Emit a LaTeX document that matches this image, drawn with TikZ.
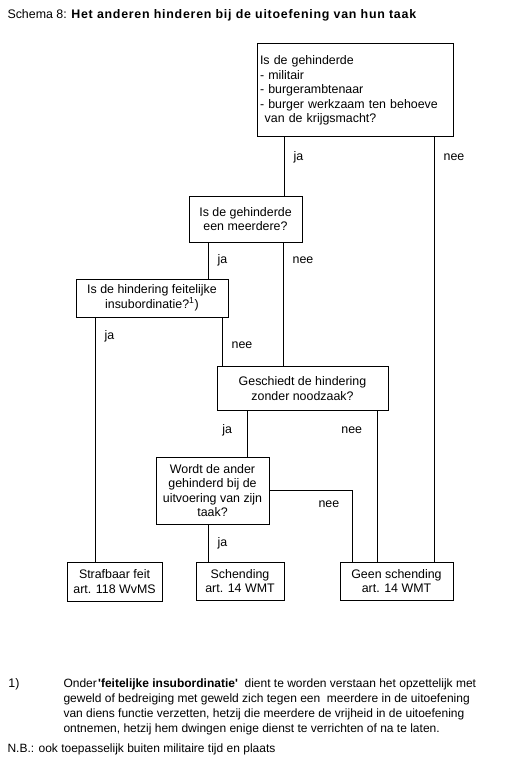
\documentclass[tikz,border=0pt]{standalone}
\usepackage{fontspec}
\setmainfont{Liberation Sans}
\usetikzlibrary{positioning,calc}

\begin{document}
\begin{tikzpicture}[x=0.75pt, y=-0.75pt, line width=0.75pt,
        every node/.style={font=\fontsize{9.3}{10.9}\selectfont},
        vraag/.style={draw, align=center, inner sep=0pt},
        jarechts/.style={right=3.5pt},
        jalinks/.style={left=7.5pt}]
                \useasboundingbox (0,0) rectangle (508,770);
                \node[anchor=base west, inner sep=0pt] (titel) at (7,19) {Schema 8: {\bfseries\addfontfeature{LetterSpace=6}Het anderen hinderen bij de uitoefening van hun taak}};
                
                % Vragen
                \node[vraag, minimum width=147pt, minimum height=69.75pt, text width=142.5pt, align=left, inner sep=2.25pt] (gehinderde) at (355,90.5)
                    {Is de gehinderde\\- militair\\- burgerambtenaar\\- burger werkzaam ten behoeve\\\hspace{3.5pt}van de krijgsmacht?};
                \node[vraag, minimum width=84.75pt, minimum height=34.5pt] (meerdere) at (245.5,219) {Is de gehinderde\\een meerdere?};
                \node[vraag, minimum width=114pt, minimum height=28.5pt] (insub) at (152,298) {Is de hindering feitelijke\\insubordinatie?\textsuperscript{1})};
                \node[vraag, minimum width=128.25pt, minimum height=33pt] (noodzaak) at (302.5,388.5) {Geschiedt de hindering\\zonder noodzaak?};
                \node[vraag, minimum width=84.75pt, minimum height=50.25pt] (taak) at (212.5,490.5) {Wordt de ander\\gehinderd bij de\\uitvoering van zijn\\taak?};
                
                % Uitkomsten
                \node[vraag, minimum width=71.25pt, minimum height=29.25pt] (strafbaar) at (114.5,581.5) {Strafbaar feit\\art. 118 WvMS};
                \node[vraag, minimum width=66pt, minimum height=28.5pt] (schending) at (240,581) {Schending\\art. 14 WMT};
                \node[vraag, minimum width=84.75pt, minimum height=28.5pt] (geen) at (396.5,581) {Geen schending\\art. 14 WMT};
                
                % Verbindingen
                \draw (gehinderde.south -| 284,0) -- node[jarechts, pos=0.34] {ja} (meerdere.north -| 284,0);
                \draw (gehinderde.south -| 434,0) -- node[jarechts, pos=0.047] {nee} (geen.north -| 434,0);
                \draw (meerdere.south -| 208,0) -- node[jarechts, pos=0.49] {ja} (insub.north -| 208,0);
                \draw (meerdere.south -| 283,0) -- node[jarechts, pos=0.145] {nee} (noodzaak.north -| 283,0);
                \draw (insub.south -| 95,0) -- node[jarechts, pos=0.078] {ja} (strafbaar.north -| 95,0);
                \draw (insub.south -| 222,0) -- node[jarechts, pos=0.57] {nee} (noodzaak.north -| 222,0);
                \draw (noodzaak.south -| 247,0) -- node[jalinks, pos=0.43] {ja} (taak.north -| 247,0);
                \draw (noodzaak.south -| 377,0) -- node[jalinks, pos=0.13] {nee} (geen.north -| 377,0);
                \draw (taak.south -| 208,0) -- node[jarechts, pos=0.5] {ja} (schending.north -| 208,0);
                \draw (taak.east) -| node[below=4pt, pos=0.36] {nee} (geen.north -| 352,0);
                
                % Voetnoot
                \node[anchor=north west, inner sep=0pt] (een) at (8,678.5) {1)};
                \node[anchor=north west, inner sep=0pt, align=left, font=\fontsize{9}{11.25}\selectfont] (voetnoot) at (63,678.5)
                    {Onder\hspace{1pt}\textbf{\textquotesingle feitelijke insubordinatie\textquotesingle}\ \ dient te worden verstaan het opzettelijk met\\
                     geweld of bedreiging met geweld zich tegen een\ \ meerdere in de uitoefening\\
                     van diens functie verzetten, hetzij die meerdere de vrijheid in de uitoefening\\
                     ontnemen, hetzij hem dwingen enige dienst te verrichten of na te laten.};
                \node[anchor=base west, inner sep=0pt, font=\fontsize{9}{11.25}\selectfont] (nb) at (7,752) {N.B.: ook toepasselijk buiten militaire tijd en plaats};
            \end{tikzpicture}
\end{document}
